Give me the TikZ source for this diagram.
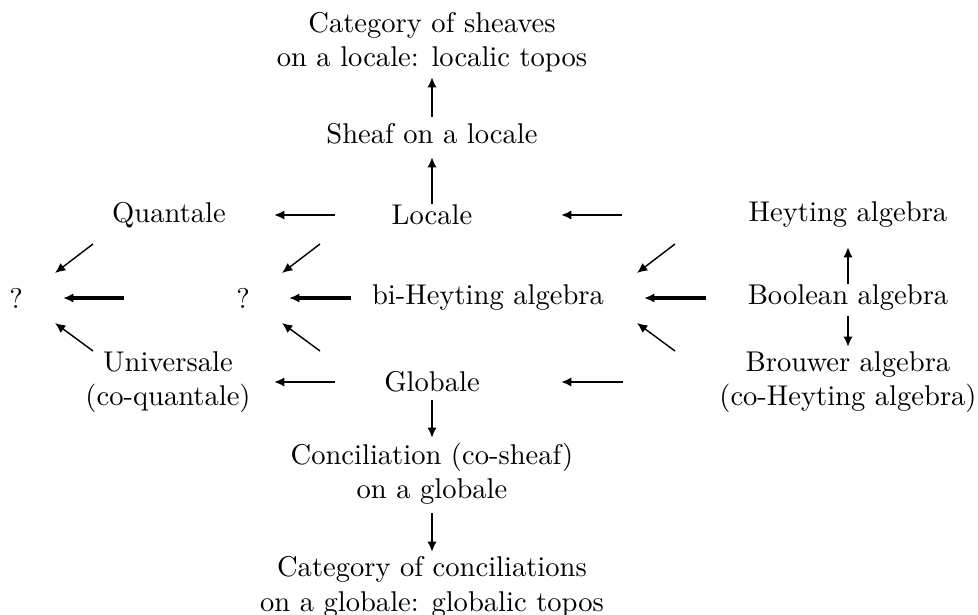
\documentclass[tikz,border=0pt]{standalone}
\usetikzlibrary{arrows.meta}
\newdimen\px
\px=0.35pt

\begin{document}
\begin{tikzpicture}[
	x=0.35pt, y=-0.35pt,
	> = {Latex[length=3.6pt,width=3.2pt]},
	box/.style = {align=center},
	harrow/.style = {->, line width=0.7pt},
	barrow/.style = {->, line width=1.1pt},
	darrow/.style = {->, line width=0.5pt}
	]

	\useasboundingbox (0,0) rectangle (978,615);

	% middle column
	\node[box] (topsh) at (432,42) {Category of sheaves\\on a locale: localic topos};
	\node[box] (sheaf) at (432,134) {Sheaf on a locale};
	\node[box] (locale) at (432,215) {Locale};
	\node[box] (biheyting) at (488,298) {bi-Heyting algebra};
	\node[box] (globale) at (432,382) {Globale};
	\node[box] (concil) at (432,474) {Conciliation (co-sheaf)\\on a globale};
	\node[box] (topgl) at (432,587) {Category of conciliations\\on a globale: globalic topos};

	% left columns
	\node[box] (quantale) at (169,215) {Quantale};
	\node[box] (universale) at (168,382) {Universale\\(co-quantale)};
	\node[box] (qleft) at (16,298) {?};
	\node[box] (qmid) at (243,298) {?};

	% right column
	\node[box] (heyting) at (848,215) {Heyting algebra};
	\node[box] (boolean) at (848,298) {Boolean algebra};
	\node[box] (brouwer) at (848,382) {Brouwer algebra\\(co-Heyting algebra)};

	% vertical arrows
	\draw[harrow, shorten <=17\px, shorten >=35\px] (sheaf.center) -- (topsh.center);
	\draw[harrow, shorten <=11\px, shorten >=23\px] (locale.center) -- (sheaf.center);
	\draw[harrow, shorten <=18\px, shorten >=36\px] (globale.center) -- (concil.center);
	\draw[harrow, shorten <=39\px, shorten >=35\px] (concil.center) -- (topgl.center);
	\draw[harrow, shorten <=14\px, shorten >=32\px] (boolean.center) -- (heyting.center);
	\draw[harrow, shorten <=18\px, shorten >=35\px] (boolean.center) -- (brouwer.center);

	% horizontal arrows
	\draw[harrow, shorten <=97\px, shorten >=105\px] (locale.center) -- (quantale.center);
	\draw[harrow, shorten <=226\px, shorten >=129\px] (heyting.center) -- (locale.center);
	\draw[harrow, shorten <=97\px, shorten >=106\px] (globale.center) -- (universale.center);
	\draw[harrow, shorten <=225\px, shorten >=129\px] (brouwer.center) -- (globale.center);
	\draw[barrow, shorten <=119\px, shorten >=47\px] (qmid.center) -- (qleft.center);
	\draw[barrow, shorten <=137\px, shorten >=46\px] (biheyting.center) -- (qmid.center);
	\draw[barrow, shorten <=142\px, shorten >=156\px] (boolean.center) -- (biheyting.center);

	% diagonal arrows
	\draw[darrow] ([shift={(-76,29)}]quantale.center) -- ([shift={(39,-25)}]qleft.center);
	\draw[darrow] ([shift={(-75,-31)}]universale.center) -- ([shift={(39,25)}]qleft.center);
	\draw[darrow] ([shift={(-112,29)}]locale.center) -- ([shift={(39,-25)}]qmid.center);
	\draw[darrow] ([shift={(-112,-31)}]globale.center) -- ([shift={(39,25)}]qmid.center);
	\draw[darrow] ([shift={(-173,29)}]heyting.center) -- ([shift={(149,-25)}]biheyting.center);
	\draw[darrow] ([shift={(-173,-31)}]brouwer.center) -- ([shift={(149,25)}]biheyting.center);

\end{tikzpicture}
\end{document}
